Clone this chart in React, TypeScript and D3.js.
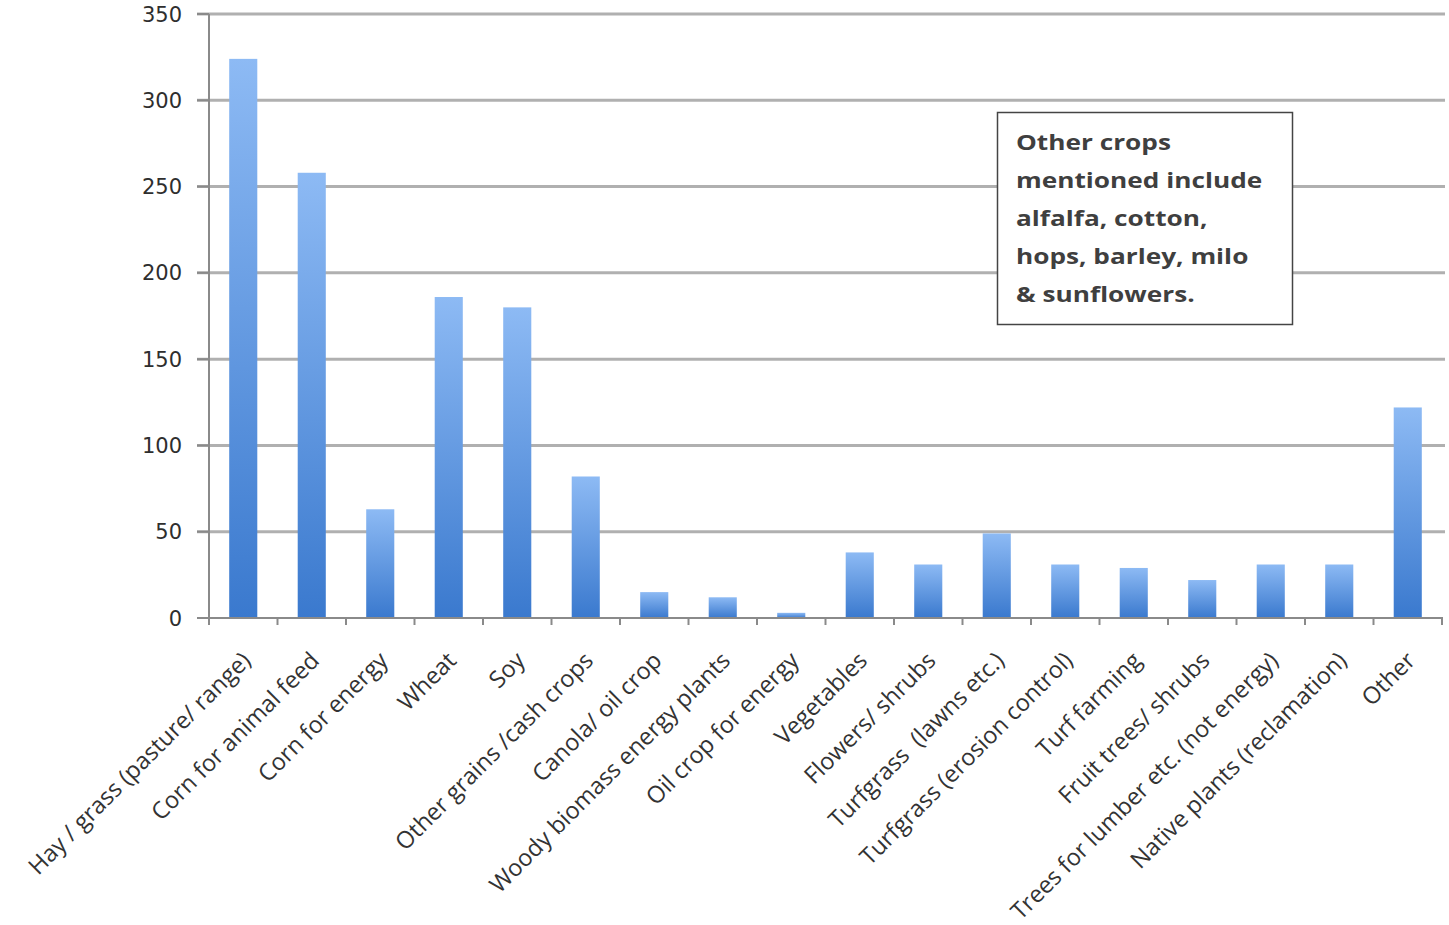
import React from "react";
import * as d3 from "d3";

const categories = [
  "Hay / grass (pasture/ range)",
  "Corn for animal feed",
  "Corn for energy",
  "Wheat",
  "Soy",
  "Other grains /cash crops",
  "Canola/ oil crop",
  "Woody biomass energy plants",
  "Oil crop for energy",
  "Vegetables",
  "Flowers/ shrubs",
  "Turfgrass  (lawns etc.)",
  "Turfgrass (erosion control)",
  "Turf farming",
  "Fruit trees/ shrubs",
  "Trees for lumber etc. (not energy)",
  "Native plants (reclamation)",
  "Other",
];
const values = [324, 258, 63, 186, 180, 82, 15, 12, 3, 38, 31, 49, 31, 29, 22, 31, 31, 122];
const yTicks = [0, 50, 100, 150, 200, 250, 300, 350];
const noteLines = [
  "Other crops",
  "mentioned include",
  "alfalfa, cotton,",
  "hops, barley, milo",
  "& sunflowers.",
];

const W = 1449;
const H = 925;

export default function App() {
  const x = d3
    .scaleBand<string>()
    .domain(categories)
    .range([209, 1442])
    .paddingInner(0.59)
    .paddingOuter(0.295);
  const y = d3.scaleLinear().domain([0, 350]).range([618, 14]);
  const step = x.step();
  const boundaries = d3.range(categories.length + 1).map((i) => 209 + i * step);

  return (
    <svg
      width={W}
      height={H}
      style={{ position: "absolute", left: 0, top: 0, background: "#fff" }}
    >
      <defs>
        <linearGradient id="barGrad" x1="0" y1="0" x2="0" y2="1">
          <stop offset="0%" stopColor="#8dbaf4" />
          <stop offset="100%" stopColor="#3a79ce" />
        </linearGradient>
      </defs>
      {/* gridlines */}
      {yTicks.map((t) => (
        <line
          key={"g" + t}
          x1={197}
          x2={1445}
          y1={y(t)}
          y2={y(t)}
          stroke={t === 0 ? "none" : "#b0b0b0"}
          strokeWidth={3}
        />
      ))}
      {/* y tick marks */}
      {yTicks.map((t) => (
        <line key={"yt" + t} x1={197} x2={209} y1={y(t)} y2={y(t)} stroke="#8a8a8a" strokeWidth={2} />
      ))}
      {/* y labels */}
      {yTicks.map((t) => (
        <text
          key={"yl" + t}
          x={182}
          y={y(t)}
          dy="0.36em"
          textAnchor="end"
          fontFamily="DejaVu Sans"
          fontSize={21}
          fill="#2e2e2e"
        >
          {t}
        </text>
      ))}
      {/* bars */}
      {categories.map((c, i) => (
        <rect
          key={"b" + c}
          x={x(c)}
          y={y(values[i])}
          width={x.bandwidth()}
          height={y(0) - y(values[i])}
          fill="url(#barGrad)"
        />
      ))}
      {/* axes */}
      <line x1={209} x2={209} y1={14} y2={619} stroke="#8a8a8a" strokeWidth={2} />
      <line x1={208} x2={1443} y1={618} y2={618} stroke="#8a8a8a" strokeWidth={2} />
      {boundaries.map((b, i) => (
        <line key={"xt" + i} x1={b} x2={b} y1={618} y2={625} stroke="#8a8a8a" strokeWidth={2} />
      ))}
      {/* x labels */}
      {categories.map((c) => {
        const cx = (x(c) as number) + x.bandwidth() / 2 + 9;
        const cy = 662;
        return (
          <text
            key={"xl" + c}
            x={cx}
            y={cy}
            textAnchor="end"
            transform={`rotate(-45 ${cx} ${cy})`}
            fontFamily="Open Sans"
            fontSize={23.5}
            fill="#333"
            style={{ whiteSpace: "pre" }}
          >
            {c}
          </text>
        );
      })}
      {/* note box */}
      <rect x={997.5} y={112.5} width={295} height={212} fill="#fff" stroke="#444" strokeWidth={1.5} />
      {noteLines.map((l, i) => (
        <text
          key={"n" + i}
          transform={`translate(1016 ${150 + i * 38}) scale(1.22 1)`}
          fontFamily="Open Sans"
          fontWeight="bold"
          fontSize={21.5}
          fill="#3f3f3f"
        >
          {l}
        </text>
      ))}
    </svg>
  );
}
